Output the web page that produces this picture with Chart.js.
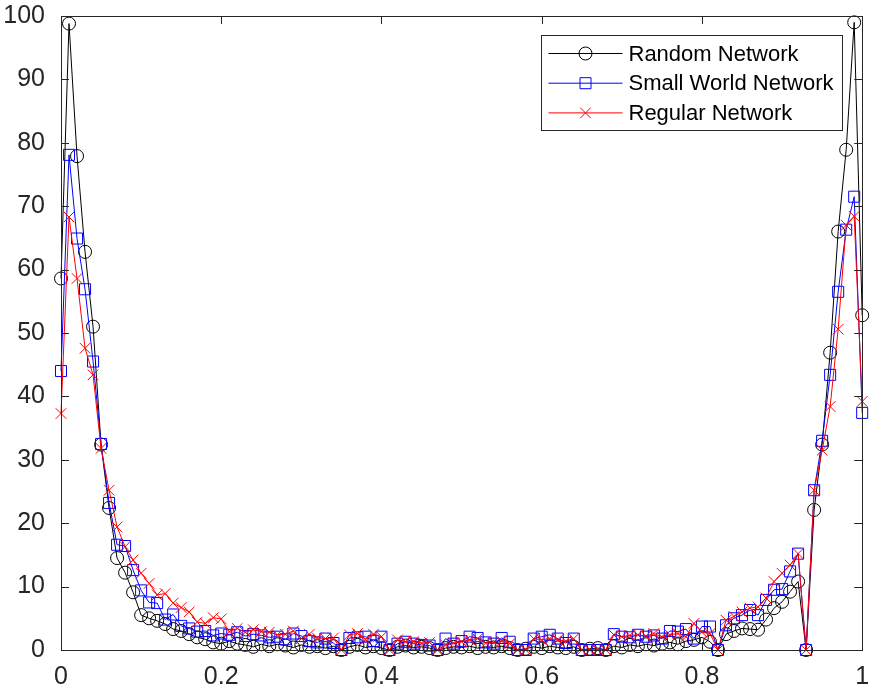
<!DOCTYPE html>
<html>
<head>
<meta charset="utf-8">
<script src="https://cdn.jsdelivr.net/npm/chart.js@4"></script>
<style>
  body { margin: 0; background: #fff; }
  #wrap { width: 871px; height: 693px; }
</style>
</head>
<body>
<div id="wrap"><canvas id="lineChart"></canvas></div>
<script>
// x positions (0 .. 1, step 0.01)
const xValues = [
  0.00, 0.01, 0.02, 0.03, 0.04, 0.05, 0.06, 0.07, 0.08, 0.09,
  0.10, 0.11, 0.12, 0.13, 0.14, 0.15, 0.16, 0.17, 0.18, 0.19,
  0.20, 0.21, 0.22, 0.23, 0.24, 0.25, 0.26, 0.27, 0.28, 0.29,
  0.30, 0.31, 0.32, 0.33, 0.34, 0.35, 0.36, 0.37, 0.38, 0.39,
  0.40, 0.41, 0.42, 0.43, 0.44, 0.45, 0.46, 0.47, 0.48, 0.49,
  0.50, 0.51, 0.52, 0.53, 0.54, 0.55, 0.56, 0.57, 0.58, 0.59,
  0.60, 0.61, 0.62, 0.63, 0.64, 0.65, 0.66, 0.67, 0.68, 0.69,
  0.70, 0.71, 0.72, 0.73, 0.74, 0.75, 0.76, 0.77, 0.78, 0.79,
  0.80, 0.81, 0.82, 0.83, 0.84, 0.85, 0.86, 0.87, 0.88, 0.89,
  0.90, 0.91, 0.92, 0.93, 0.94, 0.95, 0.96, 0.97, 0.98, 0.99,
  1.00
];

const randomNetwork = [
  58.6, 98.8, 77.9, 62.8, 51.0, 32.4, 22.4, 14.5, 12.2, 9.1,
  5.5, 5.0, 4.6, 4.1, 3.3, 3.0, 2.5, 2.0, 1.7, 1.2,
  1.0, 1.4, 1.0, 0.8, 0.5, 0.9, 0.6, 0.9, 0.7, 0.4,
  0.8, 0.5, 0.6, 0.3, 0.6, 0.0, 0.5, 0.8, 0.4, 0.6,
  0.3, 0.0, 0.5, 0.7, 0.4, 0.5, 0.3, 0.0, 0.3, 0.5,
  0.4, 0.6, 0.3, 0.5, 0.4, 0.6, 0.3, 0.0, 0.2, 0.5,
  0.3, 0.6, 0.4, 0.3, 0.5, 0.0, 0.2, 0.3, 0.0, 0.6,
  0.4, 0.8, 0.6, 0.9, 0.7, 1.0, 1.2, 0.9, 1.4, 1.6,
  2.0, 1.3, 0.0, 2.5, 3.0, 3.4, 3.3, 3.2, 4.8, 6.6,
  7.6, 9.2, 10.8, 0.0, 22.1, 32.4, 46.9, 66.0, 78.9, 99.0,
  52.8
];

const smallWorldNetwork = [
  44.0, 78.1, 64.9, 56.9, 45.5, 32.5, 23.2, 16.6, 16.4, 12.6,
  9.4, 7.5, 7.4, 4.8, 5.6, 3.8, 3.4, 2.9, 3.0, 2.3,
  2.6, 2.4, 2.8, 2.2, 2.5, 2.3, 2.0, 2.1, 1.7, 2.6,
  2.2, 1.4, 1.2, 1.8, 1.1, 0.0, 1.9, 2.0, 2.1, 1.4,
  2.1, 0.0, 1.0, 1.3, 1.0, 0.8, 0.7, 0.0, 1.8, 1.0,
  1.4, 2.1, 1.9, 1.2, 1.0, 1.9, 1.3, 0.0, 0.0, 1.8,
  2.1, 2.4, 1.8, 1.1, 1.8, 0.0, 0.0, 0.0, 0.0, 2.5,
  2.1, 2.0, 2.4, 2.1, 2.3, 1.8, 3.0, 2.9, 3.3, 1.8,
  3.7, 3.7, 0.0, 3.9, 5.0, 5.5, 6.3, 5.5, 7.9, 9.5,
  9.6, 12.4, 15.2, 0.0, 25.2, 33.0, 43.4, 56.5, 66.3, 71.5,
  37.4
];

const regularNetwork = [
  37.3, 68.3, 58.6, 47.6, 43.4, 31.8, 25.2, 19.4, 16.3, 14.2,
  12.1, 10.5, 8.7, 8.9, 7.4, 6.7, 6.0, 4.4, 4.2, 5.1,
  4.9, 2.9, 3.4, 2.8, 3.2, 2.9, 2.8, 2.4, 2.5, 3.0,
  1.8, 2.5, 1.9, 1.8, 1.9, 0.0, 2.4, 2.6, 1.7, 2.5,
  2.1, 0.0, 1.6, 1.3, 1.3, 1.1, 1.2, 0.0, 0.8, 1.1,
  1.3, 1.6, 1.8, 1.1, 1.2, 1.4, 1.0, 0.0, 0.0, 1.8,
  1.6, 1.8, 1.6, 1.4, 1.8, 0.0, 0.0, 0.0, 0.0, 2.4,
  2.1, 2.3, 2.4, 2.2, 2.6, 2.1, 2.4, 2.6, 2.1, 4.2,
  2.8, 2.6, 0.0, 4.7, 5.3, 6.0, 6.6, 6.8, 8.2, 10.8,
  12.1, 13.4, 15.2, 0.0, 25.2, 31.5, 38.4, 50.6, 67.0, 68.4,
  39.2
];

const seriesLabels = ['Random Network', 'Small World Network', 'Regular Network'];
const xTicks = [0, 0.2, 0.4, 0.6, 0.8, 1];
const yTicks = [0, 10, 20, 30, 40, 50, 60, 70, 80, 90, 100];

const axisColor = '#262626';
const fontFamily = '"Liberation Sans", Arial, Helvetica, sans-serif';

function toPoints(values) {
  return values.map((v, i) => ({ x: xValues[i], y: v }));
}

// box, inward ticks and the legend, drawn the MATLAB way
const framePlugin = {
  id: 'frame',
  afterDatasetsDraw(chart) {
    const ctx = chart.ctx;
    const a = chart.chartArea;
    const xs = chart.scales.x;
    const ys = chart.scales.y;
    const tl = 8;
    ctx.save();
    ctx.strokeStyle = axisColor;
    ctx.lineWidth = 1;
    ctx.beginPath();
    yTicks.forEach(t => {
      const y = Math.round(ys.getPixelForValue(t)) + 0.5;
      ctx.moveTo(a.left, y); ctx.lineTo(a.left + tl, y);
      ctx.moveTo(a.right, y); ctx.lineTo(a.right - tl, y);
    });
    xTicks.forEach(t => {
      const x = Math.round(xs.getPixelForValue(t)) + 0.5;
      ctx.moveTo(x, a.bottom); ctx.lineTo(x, a.bottom - tl);
      ctx.moveTo(x, a.top); ctx.lineTo(x, a.top + tl);
    });
    ctx.stroke();
    ctx.strokeRect(Math.round(a.left) + 0.5, Math.round(a.top) + 0.5,
      Math.round(a.right - a.left), Math.round(a.bottom - a.top));

    // legend
    const bw = 301, bh = 95;
    const bx = Math.round(a.right - 20 - bw) + 0.5;
    const by = Math.round(a.top + 19) + 0.5;
    ctx.fillStyle = '#fff';
    ctx.fillRect(bx, by, bw, bh);
    ctx.strokeStyle = axisColor;
    ctx.strokeRect(bx, by, bw, bh);
    ctx.font = '22px ' + fontFamily;
    ctx.textBaseline = 'middle';
    chart.data.datasets.forEach((ds, i) => {
      const cy = by + 18 + i * 29.7;
      ctx.strokeStyle = ds.borderColor;
      ctx.lineWidth = 1;
      ctx.beginPath();
      ctx.moveTo(bx + 7, cy); ctx.lineTo(bx + 81, cy);
      ctx.stroke();
      ctx.fillStyle = 'rgba(0,0,0,0)';
      Chart.helpers.drawPoint(ctx, {
        pointStyle: ds.pointStyle,
        radius: ds.pointRadius,
        borderWidth: 1,
        rotation: 0
      }, bx + 44, cy);
      ctx.fillStyle = '#000';
      ctx.fillText(ds.label, bx + 87, cy + 1);
    });
    ctx.restore();
  }
};

const ctx = document.getElementById('lineChart').getContext('2d');
const lineChart = new Chart(ctx, {
  type: 'line',
  data: {
    datasets: [{
      label: seriesLabels[0],
      data: toPoints(randomNetwork),
      borderColor: '#000000',
      backgroundColor: 'rgba(0,0,0,0)',
      pointStyle: 'circle',
      pointRadius: 6.5,
      order: 3
    }, {
      label: seriesLabels[1],
      data: toPoints(smallWorldNetwork),
      borderColor: '#0000ff',
      backgroundColor: 'rgba(0,0,0,0)',
      pointStyle: 'rect',
      pointRadius: 7.8,
      order: 2
    }, {
      label: seriesLabels[2],
      data: toPoints(regularNetwork),
      borderColor: '#ff0000',
      backgroundColor: 'rgba(0,0,0,0)',
      pointStyle: 'crossRot',
      pointRadius: 7.5,
      order: 1
    }]
  },
  options: {
    responsive: true,
    maintainAspectRatio: false,
    animation: false,
    layout: { padding: { left: 0, right: 8, top: 16, bottom: 0 } },
    elements: {
      line: { borderWidth: 1, tension: 0, fill: false },
      point: { borderWidth: 1, hoverRadius: 7 }
    },
    datasets: { line: { clip: false } },
    plugins: {
      legend: { display: false },
      tooltip: { enabled: false }
    },
    scales: {
      x: {
        type: 'linear',
        min: 0,
        max: 1,
        grid: { display: false, drawTicks: false },
        border: { display: false },
        afterBuildTicks: s => { s.ticks = xTicks.map(v => ({ value: v })); },
        afterFit: s => { s.height = 43; s.paddingLeft = 0; s.paddingRight = 0; },
        ticks: {
          color: axisColor,
          padding: 12,
          maxRotation: 0,
          font: { size: 25, family: fontFamily },
          callback: v => String(v)
        }
      },
      y: {
        min: 0,
        max: 100,
        grid: { display: false, drawTicks: false },
        border: { display: false },
        afterBuildTicks: s => { s.ticks = yTicks.map(v => ({ value: v })); },
        afterFit: s => { s.width = 61; s.paddingTop = 0; s.paddingBottom = 0; },
        ticks: {
          color: axisColor,
          padding: 16,
          font: { size: 25, family: fontFamily }
        }
      }
    }
  },
  plugins: [framePlugin]
});
</script>
</body>
</html>
